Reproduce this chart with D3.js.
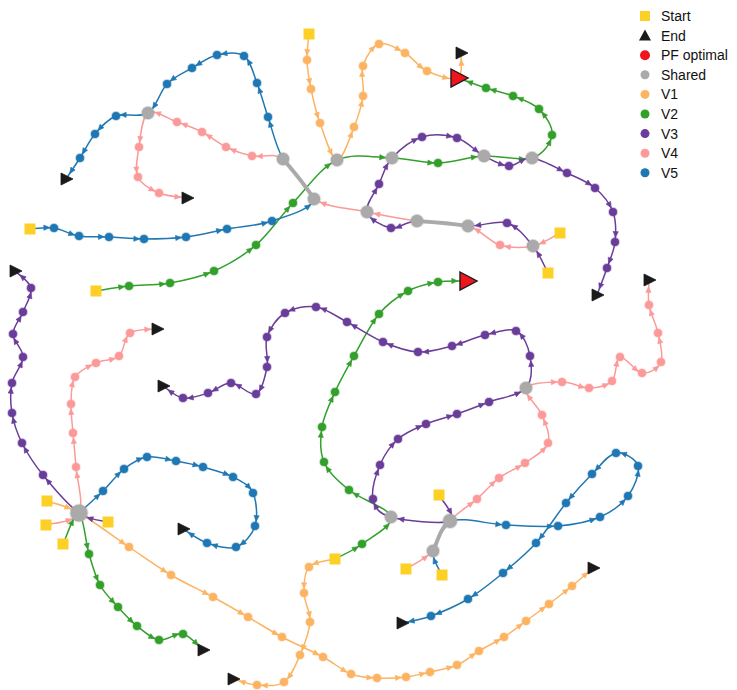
<!DOCTYPE html>
<html><head><meta charset="utf-8">
<script src="https://cdn.jsdelivr.net/npm/d3@7"></script>
<style>body{margin:0;background:#fff}svg{display:block}text{font-family:"Liberation Sans",Arial,Helvetica,sans-serif}</style>
</head><body><svg id="c" width="737" height="690"></svg>
<script>
// ---------- data (positions in the 2-D embedding) ----------
const seriesNames = ["V1", "V2", "V3", "V4", "V5"];
const seriesColors = ["#fdb462", "#33a02c", "#6a3d9a", "#fb9a99", "#1f78b4"];
const legendLabels = ["Start", "End", "PF optimal", "Shared", "V1", "V2", "V3", "V4", "V5"];

const v1_a = [[309,34],[307,60],[311,89],[320,123],[337,160],[354,127],[363,96],[363,66],[379,44],[405,53],[427,71],[458,78],[461,53]];
const v1_b = [[47,501],[79,513],[129,547],[171,575],[213,597],[248,617],[282,637],[323,657],[351,674],[377,678],[406,677],[430,672],[457,665],[479,651],[504,637],[526,621],[549,604],[572,586],[593,568]];
const v1_c = [[335,559],[309,567],[304,593],[310,622],[300,655],[284,682],[257,685],[233,679]];

const v2_a = [[96,291],[129,286],[170,283],[214,271],[256,245],[293,203],[337,160],[392,158],[438,163],[484,156],[532,158],[552,135],[539,109],[513,96],[486,88],[458,78]];
const v2_b = [[335,559],[362,544],[391,517],[349,490],[324,462],[322,427],[335,392],[354,356],[379,314],[408,291],[438,282],[467,281]];
const v2_c = [[63,544],[79,513],[89,554],[100,585],[118,607],[137,626],[159,640],[183,634],[203,650]];

const v3_a = [[548,273],[533,246],[507,223],[468,226],[417,221],[391,228],[367,212],[379,184],[392,158],[422,137],[457,138],[484,156],[509,166],[532,158],[567,173],[595,188],[613,212],[615,242],[607,268],[597,295]];
const v3_b = [[108,522],[79,513],[43,475],[22,443],[12,413],[12,383],[23,357],[13,334],[23,312],[31,288],[15,271]];
const v3_c = [[439,495],[450,521],[391,517],[373,499],[380,465],[398,439],[426,424],[457,414],[489,402],[526,388],[530,356],[516,331],[485,335],[452,346],[418,352],[383,342],[347,322],[316,307],[285,313],[267,337],[267,367],[256,394],[231,383],[208,393],[183,398],[163,386]];

const v4_a = [[560,233],[533,246],[500,245],[468,226],[417,221],[367,212],[314,199],[283,159],[252,156],[226,147],[202,132],[177,122],[148,113],[139,147],[138,177],[159,193],[187,198]];
const v4_b = [[46,525],[79,513],[76,467],[73,433],[71,404],[75,377],[96,363],[119,356],[130,333],[157,329]];
const v4_c = [[406,569],[433,551],[450,521],[477,499],[499,478],[525,463],[548,443],[542,415],[526,388],[562,382],[589,388],[612,381],[620,357],[642,373],[661,362],[658,333],[649,305],[649,280]];

const v5_a = [[30,229],[54,228],[79,236],[109,237],[144,239],[186,237],[227,229],[272,221],[314,199],[283,159],[268,117],[257,83],[244,56],[217,55],[192,68],[167,84],[148,113],[116,116],[95,134],[80,158],[66,179]];
const v5_b = [[79,513],[103,491],[124,469],[147,457],[176,461],[203,467],[233,477],[253,493],[255,526],[236,547],[207,543],[183,529]];
const v5_c = [[442,575],[433,551],[450,521],[506,525],[558,526],[600,517],[628,496],[638,466],[616,453],[592,474],[566,503],[536,543],[503,573],[468,599],[431,616],[402,623]];

const startPoints = [[309,34],[47,501],[335,559],[96,291],[63,544],[548,273],[108,522],[439,495],[560,233],[46,525],[406,569],[30,229],[442,575]];
const endPoints = [[461,53],[593,568],[233,679],[203,650],[597,295],[15,271],[163,386],[187,198],[157,329],[649,280],[66,179],[183,529],[402,623]];
const pfPoints = [[458,78],[467,281]];
const sharedPoints = [[79,513],[148,113],[283,159],[314,199],[337,160],[392,158],[484,156],[532,158],[367,212],[417,221],[468,226],[533,246],[526,388],[391,517],[450,521],[433,551]];

const trajectories = [
  {series:"V1", pts:v1_a},{series:"V1", pts:v1_b},{series:"V1", pts:v1_c},
  {series:"V2", pts:v2_a},{series:"V2", pts:v2_b},{series:"V2", pts:v2_c},
  {series:"V3", pts:v3_a},{series:"V3", pts:v3_b},{series:"V3", pts:v3_c},
  {series:"V4", pts:v4_a},{series:"V4", pts:v4_b},{series:"V4", pts:v4_c},
  {series:"V5", pts:v5_a},{series:"V5", pts:v5_b},{series:"V5", pts:v5_c}
];

// ---------- drawing ----------
const W = 737, H = 690;
const svg = d3.select("#c");
const x = d3.scaleLinear().domain([0, 737]).range([0, W]);
const y = d3.scaleLinear().domain([0, 690]).range([0, H]);
const color = d3.scaleOrdinal().domain(seriesNames).range(seriesColors);

const key = p => p[0] + "," + p[1];
const startSet = new Set(startPoints.map(key));
const endSet = new Set(endPoints.map(key));
const pfSet = new Set(pfPoints.map(key));
const sharedSet = new Set(sharedPoints.map(key));

const passCount = {};
trajectories.forEach(t => new Set(t.pts.map(key)).forEach(k => { passCount[k] = (passCount[k] || 0) + 1; }));
const sharedR = k => 4.6 + 0.8 * (passCount[k] || 2);

const ek = (a, b) => [key(a), key(b)].sort().join("|");
const edgeCount = {};
trajectories.forEach(t => {
  for (let i = 0; i < t.pts.length - 1; i++) {
    const a = t.pts[i], b = t.pts[i + 1];
    if (sharedSet.has(key(a)) && sharedSet.has(key(b))) edgeCount[ek(a, b)] = (edgeCount[ek(a, b)] || 0) + 1;
  }
});

function bez(P, i) {
  const p0 = P[Math.max(0, i - 1)], p1 = P[i], p2 = P[i + 1], p3 = P[Math.min(P.length - 1, i + 2)];
  const c1 = [p1[0] + (p2[0] - p0[0]) / 6, p1[1] + (p2[1] - p0[1]) / 6];
  const c2 = [p2[0] - (p3[0] - p1[0]) / 6, p2[1] - (p3[1] - p1[1]) / 6];
  return [p1, c1, c2, p2];
}
function bpt(b, t) {
  const u = 1 - t;
  return [u*u*u*b[0][0] + 3*u*u*t*b[1][0] + 3*u*t*t*b[2][0] + t*t*t*b[3][0],
          u*u*u*b[0][1] + 3*u*u*t*b[1][1] + 3*u*t*t*b[2][1] + t*t*t*b[3][1]];
}
function btan(b, t) {
  const u = 1 - t;
  return [3*u*u*(b[1][0]-b[0][0]) + 6*u*t*(b[2][0]-b[1][0]) + 3*t*t*(b[3][0]-b[2][0]),
          3*u*u*(b[1][1]-b[0][1]) + 6*u*t*(b[2][1]-b[1][1]) + 3*t*t*(b[3][1]-b[2][1])];
}
function nodeR(p) {
  const k = key(p);
  if (pfSet.has(k)) return 9;
  if (sharedSet.has(k)) return sharedR(k);
  if (endSet.has(k)) return 6;
  if (startSet.has(k)) return 5.5;
  return 4;
}

const gLines = svg.append("g"), gShared = svg.append("g"), gArrows = svg.append("g"), gNodes = svg.append("g");
const sharedBez = {};

trajectories.forEach(t => {
  const P = t.pts.map(p => [x(p[0]), y(p[1])]);
  const col = color(t.series);
  const dp = d3.path();
  for (let i = 0; i < P.length - 1; i++) {
    const a = t.pts[i], b = t.pts[i + 1];
    const B = bez(P, i);
    const isShared = sharedSet.has(key(a)) && sharedSet.has(key(b)) && edgeCount[ek(a, b)] >= 2;
    if (isShared) {
      // collect oriented (from lexicographically smaller key) bezier for averaging
      const k = ek(a, b);
      const oriented = key(a) === k.split("|")[0] ? B : [B[3], B[2], B[1], B[0]];
      (sharedBez[k] = sharedBez[k] || []).push(oriented);
      continue;
    }
    dp.moveTo(B[0][0], B[0][1]);
    dp.bezierCurveTo(B[1][0], B[1][1], B[2][0], B[2][1], B[3][0], B[3][1]);
    const N = 60; const pts = []; const cum = [0];
    for (let j = 0; j <= N; j++) pts.push(bpt(B, j / N));
    for (let j = 1; j <= N; j++) cum.push(cum[j-1] + Math.hypot(pts[j][0]-pts[j-1][0], pts[j][1]-pts[j-1][1]));
    const L = cum[N];
    const d = nodeR(b) + 3.5;
    if (L > d + 4) {
      let j = N; while (j > 0 && L - cum[j] < d) j--;
      const tt = j / N;
      const c = bpt(B, tt), tg = btan(B, tt);
      const ang = Math.atan2(tg[1], tg[0]) * 180 / Math.PI;
      gArrows.append("path").attr("d", "M3.2,0L-2.6,-2.6L-2.6,2.6Z")
        .attr("transform", `translate(${c[0]},${c[1]}) rotate(${ang})`)
        .attr("fill", col).attr("stroke", col).attr("stroke-width", 0.6).attr("stroke-linejoin", "round");
    }
  }
  gLines.append("path").attr("d", dp.toString()).attr("fill", "none")
    .attr("stroke", col).attr("stroke-width", 1.5);
  t.pts.forEach(p => {
    const k = key(p);
    if (startSet.has(k) || endSet.has(k) || pfSet.has(k) || sharedSet.has(k)) return;
    gNodes.append("circle").attr("cx", x(p[0])).attr("cy", y(p[1])).attr("r", 4)
      .attr("fill", col).attr("stroke", col).attr("stroke-opacity", 0.3).attr("stroke-width", 2);
  });
});

// shared (grey) segments: averaged curve of the trajectories that share them
Object.values(sharedBez).forEach(list => {
  const avg = [0, 1, 2, 3].map(q => [d3.mean(list, b => b[q][0]), d3.mean(list, b => b[q][1])]);
  const sp = d3.path();
  sp.moveTo(avg[0][0], avg[0][1]);
  sp.bezierCurveTo(avg[1][0], avg[1][1], avg[2][0], avg[2][1], avg[3][0], avg[3][1]);
  gShared.append("path").attr("d", sp.toString()).attr("fill", "none")
    .attr("stroke", "#aaaaaa").attr("stroke-width", 4).attr("stroke-linecap", "round");
});

gNodes.selectAll(".shared").data(sharedPoints).join("circle").attr("class", "shared")
  .attr("cx", d => x(d[0])).attr("cy", d => y(d[1])).attr("r", d => sharedR(key(d)))
  .attr("fill", "#aaaaaa").attr("stroke", "#aaaaaa").attr("stroke-opacity", 0.35).attr("stroke-width", 2);
gNodes.selectAll(".start").data(startPoints).join("rect").attr("class", "start")
  .attr("x", d => x(d[0]) - 5.5).attr("y", d => y(d[1]) - 5.5).attr("width", 11).attr("height", 11)
  .attr("fill", "#fdd026");
gNodes.selectAll(".end").data(endPoints).join("path").attr("class", "end")
  .attr("d", d => `M${x(d[0]) - 5},${y(d[1]) - 6}L${x(d[0]) + 7},${y(d[1])}L${x(d[0]) - 5},${y(d[1]) + 6}Z`)
  .attr("fill", "#1a1a1a").attr("stroke", "#1a1a1a").attr("stroke-width", 0.8);
gNodes.selectAll(".pf").data(pfPoints).join("path").attr("class", "pf")
  .attr("d", d => `M${x(d[0]) - 7},${y(d[1]) - 9}L${x(d[0]) + 10},${y(d[1])}L${x(d[0]) - 7},${y(d[1]) + 9}Z`)
  .attr("fill", "#f0141c").attr("stroke", "#1a1a1a").attr("stroke-width", 1.4).attr("stroke-linejoin", "miter");

// ---------- legend ----------
const lg = svg.append("g").attr("transform", "translate(645,16)");
legendLabels.forEach((lab, i) => {
  const g = lg.append("g").attr("transform", `translate(0,${i * 19.6})`);
  if (lab === "Start") g.append("rect").attr("x", -5).attr("y", -5).attr("width", 10).attr("height", 10).attr("fill", "#fdd026");
  else if (lab === "End") g.append("path").attr("d", "M-6,5L0,-6L6,5Z").attr("fill", "#1a1a1a");
  else if (lab === "PF optimal") g.append("circle").attr("r", 5).attr("fill", "#f0141c");
  else if (lab === "Shared") g.append("circle").attr("r", 4.5).attr("fill", "#aaaaaa");
  else g.append("circle").attr("r", 4.5).attr("fill", color(lab));
  g.append("text").attr("x", 16).attr("y", 0).attr("dy", "0.35em").attr("font-size", 14).attr("fill", "#111").text(lab);
});
</script></body></html>
